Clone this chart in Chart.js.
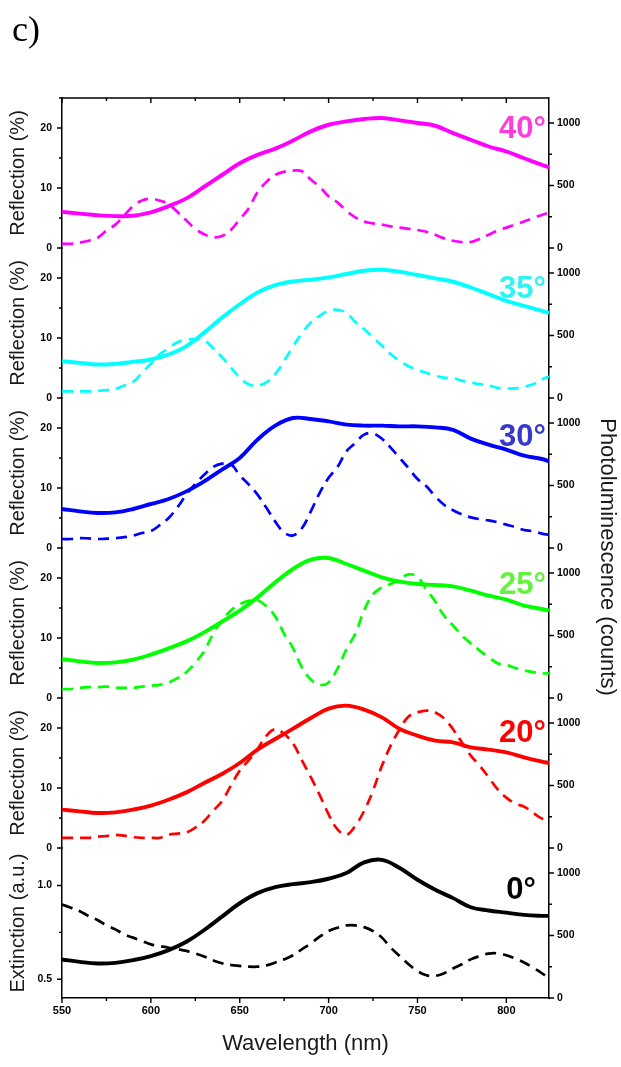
<!DOCTYPE html>
<html><head><meta charset="utf-8">
<script src="https://cdn.jsdelivr.net/npm/chart.js@4.4.1/dist/chart.umd.min.js"></script>
<style>
html,body{margin:0;padding:0;background:#fff}
#wrap{position:relative;width:621px;height:1067px}
#lab{position:absolute;left:12px;top:11px;font-family:'Liberation Serif','Times New Roman',serif;font-size:36px;color:#000;line-height:1}
</style>
</head><body>
<div id="wrap"><canvas id="cv" width="621" height="1067" style="width:621px;height:1067px"></canvas><div id="lab">c)</div></div>
<script>
// ---- data ----
const wlPL = [550,560,570,580,590,600,610,620,630,640,650,660,670,680,690,700,710,720,730,740,750,760,770,780,790,800,810,820,824];
const wlR = [550,555,560,565,570,575,580,585,590,595,600,605,610,615,620,625,630,635,640,645,650,655,660,665,670,675,680,685,690,695,700,705,710,715,720,725,730,735,740,745,750,755,760,765,770,775,780,785,790,795,800,805,810,815,820,824];

const pl40 = [289,275,262,255,258,285,335,397,490,584,678,745,795,860,933,986,1013,1032,1040,1021,1000,978,919,866,812,772,718,665,645];
const pl35 = [295,281,268,273,289,308,348,415,523,643,750,844,903,933,946,965,992,1018,1026,1010,984,957,930,884,831,777,737,697,680];
const pl30 = [312,293,280,285,312,352,392,453,533,627,720,867,979,1040,1032,1013,987,979,979,973,973,965,945,875,827,787,739,712,693];
const pl25 = [312,293,280,285,307,347,397,453,525,611,699,805,925,1032,1107,1120,1072,1019,965,931,912,904,893,859,819,787,739,712,699];
const pl20 = [307,293,280,285,307,339,387,445,520,592,680,787,872,955,1040,1115,1139,1107,1045,952,899,859,845,805,787,765,725,691,680];
const pl0  = [308,289,276,281,303,335,383,450,544,651,758,839,887,911,927,954,1000,1085,1105,1040,946,866,799,726,700,683,665,657,657];

const r40 = [0.7,0.7,0.9,1.2,1.7,2.9,3.9,5.4,7.0,7.9,8.2, 7.9,7.3,6.0,4.6,3.2,2.3,1.8,2.0,3.0,4.8, 6.6,9.3,11.0,12.2,12.7,12.9,12.8,11.4,10.2,8.6, 7.6,6.2,5.1,4.4,4.1,3.9,3.6,3.4,3.2,3.0, 2.7,2.2,1.6,1.2,1.0,1.0,1.5,2.2,2.9,3.4, 3.9,4.4,5.0,5.5,5.9];
const r35 = [1.1,1.1,1.1,1.1,1.2,1.3,1.5,2.1,2.7,4.2,5.7, 7.3,8.3,9.3,9.7,9.8,9.6,8.3,6.8,5.1,3.4, 2.3,2.1,2.6,4.0,6.2,8.6,10.8,12.6,13.7,14.5, 14.7,14.2,12.7,11.5,10.1,8.7,7.3,6.2,5.3,4.7, 4.2,3.7,3.4,3.3,2.9,2.6,2.3,2.1,1.7,1.6, 1.6,1.9,2.3,3.1,3.6];
const r30 = [1.5,1.5,1.65,1.6,1.5,1.55,1.65,1.8,2.05,2.5,2.8, 3.8,5.0,6.8,8.9,10.7,12.2,13.5,14.05,14.0,12.1, 10.6,8.9,6.7,4.4,2.6,2.1,3.3,6.1,9.2,11.7, 13.5,16.1,17.5,18.9,19.1,18.2,16.7,15.0,13.3,11.5, 10.3,8.6,7.2,6.3,5.6,5.1,4.8,4.6,4.3,3.9, 3.5,3.0,2.8,2.4,2.2];
const r25 = [1.5,1.5,1.7,1.8,1.8,1.9,1.7,1.7,1.7,1.9,2.05, 2.2,2.6,3.3,4.3,5.9,7.8,10.7,12.9,14.6,15.6, 16.2,16.3,15.3,13.6,10.7,8.3,5.1,3.1,2.2,2.6, 4.9,8.1,10.7,14.6,17.3,18.4,19.0,19.8,20.6,20.2, 18.1,16.1,13.7,12.1,10.4,9.1,7.9,6.8,5.8,5.5, 5.0,4.6,4.3,4.1,4.1];
const r20 = [1.7,1.7,1.7,1.7,1.9,2.0,2.2,2.05,1.8,1.7,1.7, 1.7,2.2,2.4,2.6,3.4,4.5,6.2,7.8,10.4,12.9, 14.6,16.5,18.7,19.8,19.0,17.4,14.6,11.8,8.8,5.6, 3.1,2.2,3.7,6.2,9.6,13.7,17.1,19.8,21.9,22.6, 22.9,22.6,21.6,19.8,17.6,15.4,13.7,11.8,9.8,8.4, 7.4,6.9,5.9,4.9,4.9];
const e0  = [0.899,0.881,0.863,0.837,0.816,0.787,0.766,0.739,0.722,0.704,0.686, 0.677,0.668,0.660,0.651,0.638,0.621,0.601,0.585,0.576,0.571, 0.567,0.567,0.574,0.589,0.606,0.628,0.660,0.691,0.727,0.757, 0.775,0.787,0.787,0.778,0.757,0.722,0.668,0.624,0.580,0.544, 0.521,0.518,0.532,0.557,0.580,0.606,0.624,0.637,0.638,0.628, 0.610,0.589,0.562,0.532,0.504];

const angleLabels = ['40°','35°','30°','25°','20°','0°'];
const xTickVals = [550,575,600,625,650,675,700,725,750,775,800];
const reflTickVals = [0,5,10,15,20,25];
const extTickVals = [0.5,0.75,1.0];
const plTickVals = [0,250,500,750,1000];

// ---- styles ----
const panelIds = ['40','35','30','25','20','0'];
const lineColors = ['#FF00FF','#00FFFF','#0000FF','#00FF00','#FF0000','#000000'];
const labelColors = ['#FF3CDC','#30F4F4','#3838CC','#66F040','#FF0000','#000000'];
const labelOffsets = [31,41,39,37,35,42];
const labelRightGap = [3,3,3,3,3,13];
const reflSeries = [r40,r35,r30,r25,r20,e0];
const plSeries = [pl40,pl35,pl30,pl25,pl20,pl0];

Chart.defaults.font.family = "'Liberation Sans', Arial, sans-serif";
Chart.defaults.color = '#000';

const datasets = [];
panelIds.forEach((id,i)=>{
  datasets.push({label:'PL '+angleLabels[i], data: wlPL.map((x,k)=>({x:x, y:plSeries[i][k]})),
    xAxisID:'x', yAxisID:'p'+id, borderColor:lineColors[i], borderWidth:3.9, pointRadius:0, tension:0.4, fill:false});
});
panelIds.forEach((id,i)=>{
  datasets.push({label:'R '+angleLabels[i], data: wlR.map((x,k)=>({x:x, y:reflSeries[i][k]})),
    xAxisID:'x', yAxisID:'r'+id, borderColor:lineColors[i], borderWidth:2.7, borderDash:[11,7], pointRadius:0, tension:0.4, fill:false});
});

const tickFont = {size:10.5, weight:'bold'};
const scales = {
  x: {type:'linear', position:'bottom', min:550, max:824,
    afterBuildTicks: s => { s.ticks = xTickVals.map(v=>({value:v})); },
    ticks:{autoSkip:false, maxRotation:0, padding:1, font:{size:11, weight:'bold'}, color:'#000',
      callback: v => (v % 50 === 0 ? String(v) : '')},
    grid:{display:true, drawOnChartArea:false, drawTicks:true, tickLength:5, tickColor:'rgba(0,0,0,0)'},
    border:{display:true, color:'#000', width:1.5},
    title:{display:true, text:'Wavelength (nm)', font:{size:22}, color:'#1a1a1a', padding:{top:0,bottom:10}},
    afterFit: s => { s.height = 69; }
  }
};
panelIds.forEach((id,i)=>{
  const isExt = id === '0';
  scales['r'+id] = {type:'linear', position:'left', stack:'L', stackWeight:1, weight:10-i,
    min: isExt ? 0.4 : 0, max: isExt ? 1.2 : 25,
    afterBuildTicks: s => { s.ticks = (isExt ? extTickVals : reflTickVals).map(v=>({value:v})); },
    ticks:{autoSkip:false, padding:5, font:tickFont, color:'#000',
      callback: v => isExt ? (Math.abs(v-0.5)<1e-6 ? '0.5' : (Math.abs(v-1)<1e-6 ? '1.0' : '')) : (v % 10 === 0 ? String(v) : '')},
    grid:{display:true, drawOnChartArea:false, drawTicks:true, tickLength:5, tickColor:'rgba(0,0,0,0)'},
    border:{display:true, color:'#000', width:1.5},
    title:{display:true, text: isExt ? 'Extinction (a.u.)' : 'Reflection (%)', font:{size:20}, color:'#1a1a1a', padding:{top:6,bottom:0}},
    afterFit: s => { s.width = 62; }
  };
  scales['p'+id] = {type:'linear', position:'right', stack:'R', stackWeight:1, weight:i,
    min:0, max:1200,
    afterBuildTicks: s => { s.ticks = plTickVals.map(v=>({value:v})); },
    ticks:{autoSkip:false, padding:3, font:tickFont, color:'#000',
      callback: v => (v % 500 === 0 ? String(v) : '')},
    grid:{display:true, drawOnChartArea:false, drawTicks:true, tickLength:5, tickColor:'rgba(0,0,0,0)'},
    border:{display:true, color:'#000', width:1.5},
    afterFit: s => { s.width = 72; }
  };
});

const tickPlugin = {id:'tickMarks', afterDraw(chart){
  const ctx = chart.ctx, ca = chart.chartArea;
  ctx.save(); ctx.strokeStyle = '#000'; ctx.lineWidth = 1.4; ctx.beginPath();
  ctx.moveTo(ca.left, ca.top); ctx.lineTo(ca.right, ca.top);
  const xs = chart.scales.x;
  xs.ticks.forEach(t=>{
    const px = xs.getPixelForValue(t.value), len = (t.value % 50 === 0) ? 5 : 3;
    ctx.moveTo(px, ca.bottom); ctx.lineTo(px, ca.bottom + len);
    ctx.moveTo(px, ca.top); ctx.lineTo(px, ca.top + len);
  });
  panelIds.forEach(id=>{
    const L = chart.scales['r'+id];
    L.ticks.forEach(t=>{
      const py = L.getPixelForValue(t.value);
      const major = id === '0' ? (Math.abs(t.value-0.75) > 1e-6) : (t.value % 10 === 0);
      const len = major ? 5 : 3;
      ctx.moveTo(ca.left - len, py); ctx.lineTo(ca.left, py);
    });
    const R = chart.scales['p'+id];
    R.ticks.forEach(t=>{
      const py = R.getPixelForValue(t.value);
      const len = (t.value % 500 === 0) ? 5 : 3;
      ctx.moveTo(ca.right, py); ctx.lineTo(ca.right + len, py);
    });
  });
  ctx.stroke(); ctx.restore();
}};

const textPlugin = {id:'panelText', afterDatasetsDraw(chart){
  const ctx = chart.ctx, ca = chart.chartArea;
  panelIds.forEach((id,i)=>{
    const s = chart.scales['r'+id];
    ctx.save();
    ctx.font = "bold 31px 'Liberation Sans', Arial, sans-serif";
    ctx.fillStyle = labelColors[i]; ctx.textAlign = 'right'; ctx.textBaseline = 'middle';
    ctx.fillText(angleLabels[i], ca.right - labelRightGap[i], s.top + labelOffsets[i]);
    ctx.restore();
  });
  ctx.save();
  ctx.translate(ca.right + 58, (ca.top + ca.bottom) / 2 + 9);
  ctx.rotate(Math.PI / 2);
  ctx.font = "22px 'Liberation Sans', Arial, sans-serif";
  ctx.fillStyle = '#1a1a1a'; ctx.textAlign = 'center'; ctx.textBaseline = 'middle';
  ctx.fillText('Photoluminescence (counts)', 0, 0);
  ctx.restore();
}};

new Chart(document.getElementById('cv'), {
  type:'line',
  data:{datasets:datasets},
  options:{responsive:false, animation:false,
    layout:{padding:{top:98, left:0, right:0, bottom:0}},
    plugins:{legend:{display:false}, tooltip:{enabled:false}, title:{display:false}},
    scales:scales},
  plugins:[tickPlugin, textPlugin]
});
</script>
</body></html>
